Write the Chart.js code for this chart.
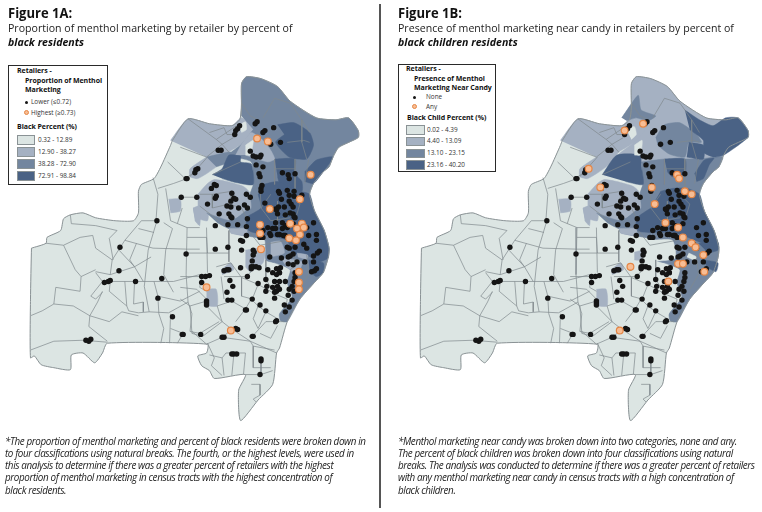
<!DOCTYPE html>
<html>
<head>
<meta charset="utf-8">
<script src="https://cdn.jsdelivr.net/npm/chart.js@4"></script>
<style>
  html, body { margin: 0; background: #fff; width: 762px; height: 512px; overflow: hidden; }
  canvas { position: absolute; top: 0; }
  .t { position: absolute; white-space: nowrap; font-family: "Open Sans", sans-serif; color: #222; line-height: 1; }
  .fig, .sub, .em, .note { transform: scaleX(0.93); transform-origin: left center; }
  .fig { font-weight: 700; font-size: 14px; color: #111; }
  .sub { font-size: 11.4px; }
  .em { font-weight: 700; font-style: italic; font-size: 11.4px; color: #111; }
  .note { font-style: italic; font-size: 10.6px; letter-spacing: -0.42px; }
  .lb { font-weight: 700; font-size: 7px; color: #111; letter-spacing: -0.05px; }
  .ll { font-size: 6.4px; color: #333; }
  .box { position: absolute; border: 1.5px solid #2a2a2a; background: #fff; box-sizing: border-box; }
  .sw { position: absolute; border: 1px solid #8a9295; box-sizing: border-box; }
  .dot { position: absolute; border-radius: 50%; box-sizing: border-box; }
  #rule { position: absolute; left: 379px; top: 4px; width: 1.5px; height: 504px; background: #555; }
</style>
</head>
<body>
<canvas id="mapA" width="380" height="512" style="left:0"></canvas>
<canvas id="mapB" width="372" height="512" style="left:390px"></canvas>
<div id="rule"></div>
<div id="text"></div>
<script>
const paleColor = "#dce5e3";
const lightColor = "#a5b1c2";
const midColor = "#73869f";
const darkColor = "#4a6285";

const outline = [[27,248],[42,243],[43,237],[57,230],[60,218],[67,214],[80,212],[93,217],[113,220],[132,220],[137,212],[137,190],[140,183],[153,177],[160,165],[170,143],[172,138],[188,116],[210,121],[233,123],[241,117],[243,105],[243,80],[248,73],[263,75],[280,83],[293,98],[320,115],[340,117],[353,115],[363,128],[363,135],[343,145],[337,155],[333,165],[327,170],[317,182],[313,193],[318,210],[328,230],[333,248],[332,258],[327,273],[318,283],[303,300],[290,323],[282,350],[279,355],[275,387],[260,403],[242,424],[240,393],[247,377],[215,381],[210,373],[202,368],[198,358],[207,355],[208,346],[105,345],[100,355],[92,365],[80,355],[68,357],[67,372],[50,370],[37,367],[30,358],[26,360],[26,300],[27,248]];

// north lobe plus the east side of the city
const eastBody = [[243,113],[243,80],[248,73],[263,75],[280,83],[293,98],[320,115],[340,117],[353,115],[363,128],[363,135],[343,145],[337,155],[333,165],[327,170],[317,182],[313,193],[318,210],[328,230],[333,248],[332,258],[327,273],[318,283],[303,300],[290,323],[283,322],[282,315],[295,298],[290,283],[293,270],[277,263],[268,260],[267,240],[257,237],[232,232],[230,220],[237,218],[247,210],[253,207],[252,192],[255,183],[253,160],[230,153],[243,142],[255,127]];
const armTracts = [[170,138],[188,116],[210,121],[233,123],[243,115],[257,127],[243,142],[230,150],[217,165],[198,177],[190,175],[190,167],[207,155]];
const westBlob = [[198,193],[208,182],[215,178],[228,180],[245,185],[252,192],[253,207],[247,210],[237,218],[232,223],[208,212],[198,207]];
const midBand = [[207,212],[232,220],[248,212],[250,230],[230,228],[218,222]];

const smallLight = [
  [[168,198],[180,198],[180,210],[170,212]],
  [[193,207],[200,205],[200,225],[195,220]],
  [[222,270],[232,263],[235,270],[223,275]],
  [[207,290],[217,290],[218,307],[207,307]],
  [[230,228],[248,228],[248,235],[232,233]]
];

const lightA = [armTracts, westBlob, [[193,208],[208,208],[208,220],[195,217]]];
const midA = [eastBody, midBand, [[207,155],[232,150],[230,160],[217,165]]];
const darkA = [
  [[280,122],[297,120],[313,130],[317,143],[310,157],[292,155],[278,140],[287,132]],
  [[213,173],[223,167],[230,153],[242,154],[242,160],[253,162],[255,183],[237,181],[223,177]],
  [[277,157],[298,157],[298,172],[305,180],[305,190],[285,190],[280,175]],
  [[308,170],[320,158],[337,155],[327,170],[317,182],[308,180]],
  [[265,183],[280,180],[298,188],[303,190],[313,193],[318,210],[328,230],[333,248],[332,258],[322,262],[310,255],[295,253],[290,240],[270,235],[250,230],[248,217],[263,207],[260,193]],
  [[312,260],[327,263],[327,273],[320,277],[313,272]]
];
const overLightA = smallLight.concat([
  [[237,153],[243,142],[253,130],[265,138],[273,148],[277,157],[270,160],[247,153]],
  [[300,253],[311,255],[310,259],[301,257]],
  [[273,242],[283,241],[287,253],[273,257]],
  [[247,250],[267,248],[265,263],[252,272],[247,267]],
  [[283,258],[305,262],[300,275],[290,268]]
]);
const overPaleA = [
  [[240,123],[247,119],[248,127],[243,130]],
  [[247,143],[255,138],[252,153],[247,153]]
];

const lightB = [eastBody, armTracts, westBlob, [[193,208],[208,208],[208,220],[195,217]]];
const midB = [
  [[233,115],[250,92],[253,107],[268,113],[260,118],[248,115],[238,118]],
  [[268,135],[277,122],[293,120],[310,132],[315,140],[302,140],[298,155],[282,152],[270,143]],
  [[253,160],[277,157],[312,157],[337,155],[333,165],[327,170],[317,182],[313,193],[318,210],[328,230],[333,248],[332,258],[327,273],[318,283],[303,300],[290,323],[283,322],[282,315],[295,298],[290,283],[293,270],[277,263],[268,260],[267,240],[257,237],[232,232],[230,220],[237,218],[247,210],[253,207],[252,192],[255,183]],
  midBand
];
const darkB = [
  [[298,107],[313,117],[327,123],[340,115],[352,115],[363,128],[363,135],[338,153],[328,155],[317,150],[317,138],[303,127]],
  [[302,140],[317,143],[317,157],[300,155]],
  [[213,173],[228,153],[252,153],[253,163],[255,183],[237,180]],
  [[277,157],[298,157],[298,172],[285,175],[280,170]],
  [[308,172],[318,158],[328,156],[323,163],[317,177],[310,180]],
  [[273,190],[285,187],[300,187],[313,193],[318,210],[328,230],[333,248],[322,245],[296,235],[285,232],[262,232],[248,230],[249,217],[263,207]],
  [[312,243],[332,242],[332,250],[322,253]],
  [[318,260],[332,263],[330,272],[320,267]]
];
const overLightB = smallLight.concat([
  [[246,252],[257,250],[253,260],[246,260]]
]);
const overPaleB = [
  [[238,127],[246,124],[248,132],[243,137]],
  [[246,143],[254,138],[252,153],[246,153]],
  [[262,240],[285,240],[288,258],[262,262]],
  [[302,253],[310,257],[308,260],[300,257]]
];

const tractLines = [
  [[67,214],[68,223],[93,225],[115,230],[107,238],[111,260]],
  [[42,243],[60,245],[77,237],[90,235],[93,248],[110,260]],
  [[60,245],[72,270],[78,277],[93,270]],
  [[78,277],[77,292],[52,288],[50,305],[38,312],[26,317]],
  [[93,272],[108,275],[110,260]],
  [[110,260],[123,240],[140,220],[156,220]],
  [[123,240],[152,248],[187,249],[200,249]],
  [[156,220],[147,250],[143,287],[148,313]],
  [[137,228],[153,232]],
  [[108,275],[133,267],[150,257]],
  [[133,267],[117,250],[118,247]],
  [[135,243],[128,260],[133,267],[142,282]],
  [[93,273],[100,282],[153,282],[173,282],[200,275]],
  [[100,282],[88,297],[93,300],[100,293]],
  [[100,292],[95,303],[87,317],[107,323],[120,313],[137,317]],
  [[108,282],[107,292],[120,303],[125,307],[127,312],[137,314],[148,313]],
  [[50,305],[70,307],[87,317],[86,328],[105,343]],
  [[26,352],[50,343],[80,342],[105,344]],
  [[123,282],[125,307]],
  [[133,282],[132,305],[142,303],[142,313]],
  [[153,282],[157,297],[180,302],[200,292]],
  [[148,313],[168,314],[188,303]],
  [[163,222],[172,228],[165,250],[163,275],[173,293]],
  [[187,227],[186,275],[188,303],[192,315],[190,333],[200,335],[220,323]],
  [[152,176],[157,193],[155,220]],
  [[157,187],[173,182],[187,177]],
  [[165,187],[170,220],[187,227],[200,227]],
  [[167,160],[185,177],[200,167]],
  [[180,196],[200,196]],
  [[182,207],[177,223]],
  [[157,298],[158,315],[163,330],[160,345]],
  [[170,315],[169,345]],
  [[170,330],[183,335],[177,345]],
  [[192,333],[207,346]],
  [[187,237],[207,237],[208,253],[187,253]],
  [[207,227],[208,273]],
  [[180,277],[202,277],[200,288],[207,292]],
  [[180,288],[197,290],[207,300]],
  [[180,300],[190,307],[207,302]],
  [[190,307],[192,335],[203,338],[223,323],[207,307]],
  [[218,307],[222,320],[223,323]],
  [[223,323],[232,330],[252,343],[279,355]],
  [[207,346],[223,339],[232,332]],
  [[223,339],[252,343]],
  [[252,343],[255,348],[255,370],[273,370]],
  [[255,348],[277,352]],
  [[208,345],[215,360],[212,368],[223,378]],
  [[223,360],[227,355],[247,355]],
  [[223,360],[225,378]],
  [[235,357],[233,378]],
  [[247,355],[245,377]],
  [[210,357],[223,360]],
  [[253,387],[262,387],[262,398],[255,402],[258,405]],
  [[247,377],[263,377],[275,373]],
  [[263,360],[263,377]],
  [[218,307],[233,302],[247,310],[237,323]],
  [[247,310],[253,300],[260,307],[268,313],[280,320]],
  [[260,307],[255,320],[260,330],[268,313]],
  [[255,337],[268,323],[280,323],[287,323]],
  [[262,335],[273,340],[280,327]],
  [[217,267],[232,263],[243,278],[243,297],[254,300]],
  [[222,277],[225,300]],
  [[225,277],[247,277],[253,272]],
  [[243,278],[260,285],[278,295]],
  [[260,285],[254,300]],
  [[278,295],[290,300],[287,317]],
  [[268,260],[268,280],[278,295]],
  [[208,253],[230,253]],
  [[230,230],[230,262]],
  [[188,116],[217,137],[238,123]],
  [[210,130],[225,125],[228,132],[237,132]],
  [[217,137],[223,142],[235,135]],
  [[223,142],[230,150]],
  [[180,145],[207,155],[217,147],[223,142]],
  [[190,175],[208,155]],
  [[242,115],[243,100],[252,113],[260,117]],
  [[277,95],[265,115]],
  [[277,95],[293,100],[305,117],[313,130]],
  [[290,140],[307,138],[313,140]],
  [[305,117],[305,140],[310,157]],
  [[277,157],[277,183]],
  [[298,157],[298,187]],
  [[312,157],[308,182]],
  [[277,167],[298,167]],
  [[263,163],[262,183],[263,207]],
  [[273,193],[263,207],[273,220],[293,217]],
  [[293,193],[303,203],[297,223]],
  [[280,200],[280,227]],
  [[213,193],[233,190],[230,203],[243,207],[248,217]],
  [[200,193],[213,193],[213,207],[230,203]],
  [[213,173],[242,160]],
  [[200,205],[230,228]],
  [[250,230],[262,245],[290,240]],
  [[295,253],[300,265],[293,270]],
  [[310,255],[312,275],[303,290]]
];

const retailers = [[219,148],[222,148],[198,167],[196,168],[195,171],[186,177],[241,123],[239,126],[237,128],[236,132],[259,119],[257,121],[276,125],[267,128],[265,130],[273,142],[283,140],[252,149],[255,154],[258,155],[262,155],[263,153],[258,163],[265,165],[261,172],[262,175],[264,184],[263,187],[263,190],[285,171],[291,173],[292,177],[298,172],[215,183],[217,184],[212,187],[281,190],[282,192],[290,189],[297,190],[305,194],[284,198],[292,194],[297,195],[292,200],[294,203],[296,206],[267,202],[281,206],[287,206],[278,208],[279,209],[280,213],[293,212],[296,213],[297,216],[298,217],[288,214],[217,195],[216,197],[233,192],[248,193],[252,196],[235,197],[237,198],[232,200],[181,196],[197,196],[208,203],[228,205],[232,206],[240,207],[246,204],[249,207],[220,213],[230,213],[232,216],[233,217],[249,218],[216,225],[229,224],[239,224],[248,226],[278,222],[285,222],[275,228],[278,228],[270,227],[288,225],[290,227],[285,228],[296,223],[317,222],[310,227],[282,234],[288,235],[286,235],[272,233],[265,230],[320,234],[320,240],[307,244],[310,248],[290,247],[292,248],[298,247],[296,254],[293,256],[291,257],[323,251],[321,253],[317,256],[272,257],[284,258],[308,262],[291,264],[296,265],[300,262],[317,262],[255,250],[270,270],[258,267],[255,267],[282,273],[320,269],[318,271],[315,272],[298,273],[298,278],[297,282],[295,287],[275,273],[277,282],[282,282],[280,287],[268,280],[260,284],[269,287],[275,288],[278,292],[292,290],[297,292],[288,282],[268,292],[248,235],[242,240],[244,241],[262,237],[265,237],[273,235],[280,234],[287,235],[290,237],[312,235],[216,249],[229,247],[243,250],[186,254],[256,252],[255,255],[254,261],[242,268],[225,271],[228,270],[230,270],[253,267],[253,269],[261,268],[279,269],[283,268],[282,273],[279,275],[249,277],[202,277],[206,277],[210,276],[231,281],[202,283],[234,287],[228,293],[277,293],[282,290],[279,292],[207,302],[207,304],[207,306],[229,301],[233,301],[254,300],[277,299],[291,296],[295,301],[262,306],[287,306],[292,308],[247,311],[248,311],[268,312],[288,313],[279,322],[278,323],[237,330],[239,331],[182,336],[201,336],[223,339],[225,339],[255,338],[254,338],[235,356],[238,356],[233,356],[263,361],[263,363],[262,377],[156,220],[118,247],[117,271],[134,282],[161,279],[102,283],[106,282],[108,281],[157,299],[172,318],[187,177],[83,342],[86,343],[88,341],[183,336]];

const highA = [[259,136],[270,139],[314,173],[303,198],[272,208],[262,224],[262,233],[263,249],[207,288],[232,332],[293,223],[305,223],[307,227],[300,228],[303,234],[292,238],[299,240],[302,272],[302,283],[302,290]];
const highB = [[236,128],[255,121],[199,167],[211,186],[264,186],[267,203],[290,173],[292,177],[298,190],[305,193],[278,222],[291,227],[296,237],[305,243],[309,247],[317,255],[291,264],[296,264],[318,272],[281,282],[242,267],[231,332]];

const legendRangesA = ["0.32 - 12.89", "12.90 - 38.27", "38.28 - 72.90", "72.91 - 98.84"];
const legendRangesB = ["0.02 - 4.39", "4.40 - 13.09", "13.10 - 23.15", "23.16 - 40.20"];
const legendColors = [paleColor, lightColor, midColor, darkColor];

const notesA = [
  "*The proportion of menthol marketing and percent of black residents were broken down in",
  "to four classifications using natural breaks. The fourth, or the highest levels, were used in",
  "this analysis to determine if there was a greater percent of retailers with the highest",
  "proportion of menthol marketing in census tracts with the highest concentration of",
  "black residents."
];
const notesB = [
  "*Menthol marketing near candy was broken down into two categories, none and any.",
  "The percent of black children was broken down into four classifications using natural",
  "breaks. The analysis was conducted to determine if there was a greater percent of retailers",
  "with any menthol marketing near candy in census tracts with a high concentration of",
  "black children."
];

function toXY(pts) {
  return pts.map((p) => ({ x: p[0], y: p[1] }));
}

function area(pts, color) {
  return { data: toXY(pts), showLine: true, fill: "shape", tension: 0.2, backgroundColor: color, borderColor: color, borderWidth: 0.5, pointRadius: 0 };
}

function line(pts, color, width, tension) {
  return { data: toXY(pts), showLine: true, fill: false, tension: tension, borderColor: color, borderWidth: width, pointRadius: 0 };
}

function drawMap(id, maxX, light, mid, dark, overLight, overPale, high) {
  const sets = [area(outline, paleColor)];
  light.forEach((p) => sets.push(area(p, lightColor)));
  mid.forEach((p) => sets.push(area(p, midColor)));
  dark.forEach((p) => sets.push(area(p, darkColor)));
  overLight.forEach((p) => sets.push(area(p, lightColor)));
  overPale.forEach((p) => sets.push(area(p, paleColor)));
  tractLines.forEach((p) => sets.push(line(p, "#7f888c", 0.7, 0)));
  sets.push(line(outline, "#8a9295", 1, 0.2));
  sets.push({ data: toXY(retailers), backgroundColor: "#151515", borderWidth: 0, pointRadius: 2.7 });
  sets.push({ data: toXY(high), backgroundColor: "#f7bd94", borderColor: "#e58645", borderWidth: 1.2, pointRadius: 3.4 });
  sets.forEach((s, i) => { s.order = -i; });

  new Chart(document.getElementById(id), {
    type: "scatter",
    data: { datasets: sets },
    options: {
      responsive: false,
      animation: false,
      devicePixelRatio: 1,
      layout: { padding: 0 },
      plugins: { legend: { display: false }, tooltip: { enabled: false } },
      scales: {
        x: { type: "linear", display: false, min: 0, max: maxX },
        y: { type: "linear", display: false, min: 0, max: 512, reverse: true }
      }
    }
  });
}

drawMap("mapA", 380, lightA, midA, darkA, overLightA, overPaleA, highA);
drawMap("mapB", 372, lightB, midB, darkB, overLightB, overPaleB, highB);

const textLayer = document.getElementById("text");
function put(cls, x, y, str) {
  const d = document.createElement("div");
  d.className = "t " + cls;
  d.style.left = x + "px";
  d.style.top = y + "px";
  d.textContent = str;
  textLayer.appendChild(d);
}
function shape(cls, x, y, w, h, bg, border) {
  const d = document.createElement("div");
  d.className = cls;
  d.style.cssText = `left:${x}px;top:${y}px;width:${w}px;height:${h}px;background:${bg};` + (border ? `border:1px solid ${border};` : "");
  textLayer.appendChild(d);
}

put("fig", 8, 6, "Figure 1A:");
put("sub", 8, 22, "Proportion of menthol marketing by retailer by percent of");
put("em", 8, 36, "black residents");
put("fig", 398, 6, "Figure 1B:");
put("sub", 398, 22, "Presence of menthol marketing near candy in retailers by percent of");
put("em", 398, 36, "black children residents");

// legend A
shape("box", 8, 65, 100, 120, "#fff");
put("lb", 17, 67, "Retailers -");
put("lb", 25, 76.5, "Proportion of Menthol");
put("lb", 25, 85.5, "Marketing");
shape("dot", 24.5, 101, 3, 3, "#151515");
put("ll", 31, 99, "Lower (≤0.72)");
shape("dot", 23.5, 110, 5, 5, "#f7bd94", "#e58645");
put("ll", 31, 110, "Highest (≥0.73)");
put("lb", 17, 123, "Black Percent (%)");
legendRangesA.forEach((r, i) => {
  shape("sw", 17, 135 + i * 12, 18, 9.5, legendColors[i], "#8a9295");
  put("ll", 38, 136.5 + i * 12, r);
});

// legend B
shape("box", 398, 64, 98, 108, "#fff");
put("lb", 406, 65, "Retailers -");
put("lb", 414, 74.5, "Presence of Menthol");
put("lb", 414, 84, "Marketing Near Candy");
shape("dot", 412.5, 96, 3, 3, "#151515");
put("ll", 426, 94, "None");
shape("dot", 411.5, 104, 5, 5, "#f7bd94", "#e58645");
put("ll", 426, 103.5, "Any");
put("lb", 407, 114, "Black Child Percent (%)");
legendRangesB.forEach((r, i) => {
  shape("sw", 406, 125 + i * 11.8, 19, 9.5, legendColors[i], "#8a9295");
  put("ll", 427, 126.5 + i * 11.8, r);
});

notesA.forEach((s, i) => put("note", 5, 435.5 + i * 12.3, s));
notesB.forEach((s, i) => put("note", 398, 435.5 + i * 12.3, s));
</script>
</body>
</html>
